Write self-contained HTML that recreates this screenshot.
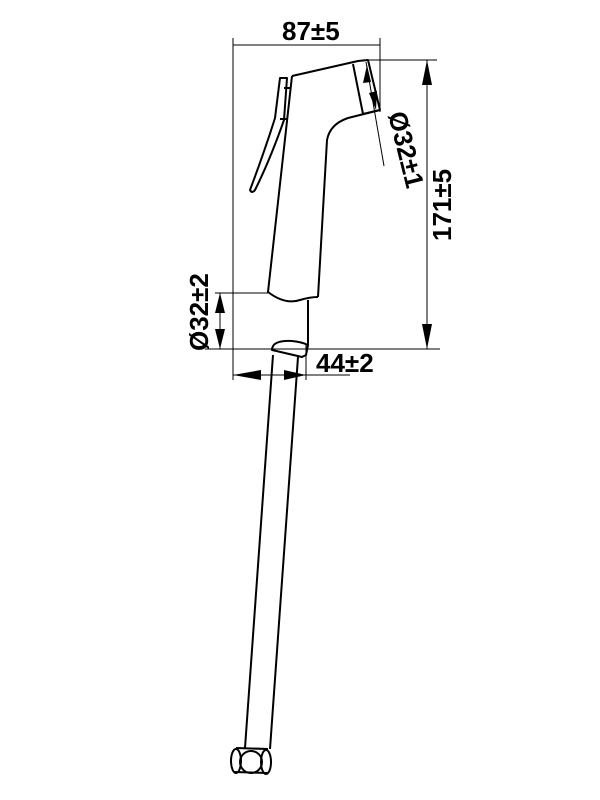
<!DOCTYPE html>
<html><head><style>html,body{margin:0;padding:0;background:#fff}svg{display:block}text{font-family:"Liberation Sans",Arial,sans-serif;font-weight:bold;font-size:26px;fill:#000}</style></head>
<body>
<svg width="600" height="800" viewBox="0 0 600 800" xmlns="http://www.w3.org/2000/svg">
<g fill="none" stroke="#000" stroke-width="1">
<line x1="233" y1="38" x2="233" y2="380"/>
<line x1="380" y1="38" x2="380" y2="112"/>
<line x1="233" y1="45" x2="380" y2="45"/>
<line x1="362" y1="60" x2="437" y2="60"/>
<line x1="205" y1="349" x2="440" y2="349"/>
<line x1="427" y1="60" x2="427" y2="349"/>
<line x1="215" y1="293" x2="268" y2="293"/>
<line x1="220" y1="293" x2="220" y2="349"/>
<line x1="306" y1="345" x2="306" y2="380"/>
<line x1="233" y1="375" x2="350" y2="375"/>
<line x1="366" y1="62" x2="384" y2="166"/>
</g>
<g fill="#000">
<polygon points="427,60 422,85 432,85"/>
<polygon points="427,349 422,324 432,324"/>
<polygon points="220,293 215,313 225,313"/>
<polygon points="220,349 215,329 225,329"/>
<polygon points="233,375 261,370 261,380"/>
<polygon points="306,375 284,370 284,380"/>
<polygon points="367,65 363,83 371,82"/>
<polygon points="376,110 369,93 377,91"/>
</g>
<g fill="none" stroke="#000" stroke-width="2" stroke-linejoin="round">
<path d="M292,76 L358,61 L368,60 L380,110 L363,114 L353,64"/>
<path d="M380,110 L348,118 Q330,124 327,140 L318,297"/>
<path d="M292,76 L268,292 Q285,305 300,300 Q310,297 318,297"/>
<path d="M280,78 L287,78 L284,120 Q270,160 255,190 Q252,194 250,190 Q265,150 275,118 Z"/>
<line x1="284" y1="88" x2="290" y2="88"/>
<line x1="280" y1="119" x2="287" y2="119"/>
<line x1="308" y1="300" x2="308" y2="345"/>
<path d="M272,350 Q272,340 292,341 Q302,342 308,345 L306,355 L302,357 Q285,353 272,350 Z"/>
<line x1="273" y1="355" x2="245" y2="748"/>
<line x1="298" y1="357" x2="270" y2="749"/>
<path d="M236,748 L268,749 M234,772 L268,773"/>
<ellipse cx="236" cy="761" rx="5" ry="12"/>
<circle cx="251" cy="762" r="11"/>
<ellipse cx="266" cy="762" rx="5" ry="12"/>
</g>
<text x="282" y="40">87±5</text>
<text x="316" y="372">44±2</text>
<text transform="translate(451,241) rotate(-90)">171±5</text>
<text transform="translate(208,351) rotate(-90)">Ø32±2</text>
<text transform="translate(388,114) rotate(76)">Ø32±1</text>
</svg>
</body></html>
